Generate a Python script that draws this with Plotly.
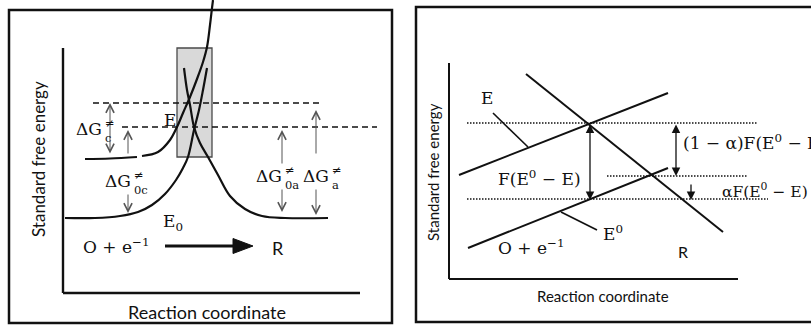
import plotly.graph_objects as go

W, H = 811, 325

# ---------------- Left panel: curved free-energy profiles ----------------
# (reaction coordinate, energy) (screen units, y down)
curve_OE_flat_x = [85, 110, 137]
curve_OE_flat_y = [159, 158.5, 157]
curve_OE_x = [142, 158, 170, 177, 183, 190, 197, 203, 207, 210, 212, 213]
curve_OE_y = [156, 152, 140, 127, 113, 97, 79, 62, 47, 25, 8, 0]
curve_OE0_x = [65, 95, 120, 138, 152, 165, 176, 183, 188, 194, 199, 203, 207]
curve_OE0_y = [218, 218, 216, 212, 205, 194, 180, 168, 157, 130, 110, 90, 68]
curve_R_x = [184, 187, 190, 194, 200, 208, 218, 230, 245, 262, 285, 328]
curve_R_y = [68, 90, 105, 127, 143, 157, 175, 196, 209, 216, 218, 218]

left_levels_y = [103, 127]          # activation levels (dashed)
left_levels_x0 = [93, 122]
left_levels_x1 = [323, 377]

# ---------------- Right panel: linear free-energy profiles ----------------
line_E_x = [459, 668]
line_E_y = [175, 93]
line_E0_x = [468, 668]
line_E0_y = [248, 168]
line_R_x = [526, 723]
line_R_y = [74, 232]
ptr_E_x = [493, 528]
ptr_E_y = [113, 147]
ptr_E0_x = [561, 597]
ptr_E0_y = [212, 230]
right_levels_y = [123, 176, 199]    # dotted levels
right_levels_x0 = [467, 607, 467]
right_levels_x1 = [757, 748, 768]

SERIF = "DejaVu Serif"
SANS = "Lato"
INK = "#111111"
GREY = "#555555"

fig = go.Figure()

def curve(xs, ys, width=2.2, shape="spline"):
    fig.add_trace(go.Scatter(x=xs, y=ys, mode="lines",
                             line=dict(color=INK, width=width, shape=shape),
                             hoverinfo="skip", showlegend=False))

shapes = []
def seg(x0, y0, x1, y1, width=2.4, color=INK, dash=None, layer="above"):
    d = dict(type="line", x0=x0, y0=y0, x1=x1, y1=y1, xref="x", yref="y",
             line=dict(color=color, width=width), layer=layer)
    if dash:
        d["line"]["dash"] = dash
    shapes.append(d)

# Outer frames
shapes.append(dict(type="rect", x0=9, y0=10, x1=392, y1=323, xref="x", yref="y",
                   line=dict(color=INK, width=2.5), layer="below"))
shapes.append(dict(type="rect", x0=416, y0=7, x1=820, y1=322, xref="x", yref="y",
                   line=dict(color=INK, width=2.5), layer="below"))

# Left axes
seg(63, 48, 63, 293, 2.4)
seg(63, 293, 360, 293, 2.4)
# Right axes
seg(449, 63, 449, 279, 2.0)
seg(449, 279, 738, 279, 2.0)

# Grey transition-state box
shapes.append(dict(type="rect", x0=177, y0=48, x1=212, y1=157, xref="x", yref="y",
                   fillcolor="#d9d9d9", line=dict(color="#4a4a4a", width=1.3),
                   layer="below"))

# Left dashed levels
for y, x0, x1 in zip(left_levels_y, left_levels_x0, left_levels_x1):
    seg(x0, y, x1, y, 1.5, INK, dash="6px,4px")

# Right dotted levels
for y, x0, x1 in zip(right_levels_y, right_levels_x0, right_levels_x1):
    seg(x0, y, x1, y, 1.3, INK, dash="1.5px,1.5px")

# Thick reaction arrow (left)
arr_y, arr_x0, arr_x1, arr_tip = 246, 165, 233, 253
seg(arr_x0, arr_y, arr_x1, arr_y, 3.2)
shapes.append(dict(type="path", xref="x", yref="y",
                   path=f"M {arr_x1},{arr_y-7.5} L {arr_tip},{arr_y} L {arr_x1},{arr_y+7.5} Z",
                   fillcolor=INK, line=dict(color=INK, width=1)))

# Curves
curve(curve_OE_flat_x, curve_OE_flat_y)
curve(curve_OE_x, curve_OE_y)
curve(curve_OE0_x, curve_OE0_y)
curve(curve_R_x, curve_R_y)
curve(line_E_x, line_E_y, 2.0, "linear")
curve(line_E0_x, line_E0_y, 2.0, "linear")
curve(line_R_x, line_R_y, 2.0, "linear")
curve(ptr_E_x, ptr_E_y, 1.6, "linear")
curve(ptr_E0_x, ptr_E0_y, 1.6, "linear")

ann = []
def text(x, y, t, size=17, family=SERIF, xanchor="center", yanchor="middle",
         angle=0, align="center"):
    ann.append(dict(x=x, y=y, xref="x", yref="y", text=t, showarrow=False,
                    font=dict(family=family, size=size, color=INK),
                    xanchor=xanchor, yanchor=yanchor, textangle=angle,
                    align=align, borderpad=0))

def arrow(xh, yh, xt, yt, color=GREY, width=1.0, head=5, size=1.6, both=False):
    ann.append(dict(x=xh, y=yh, ax=xt, ay=yt, xref="x", yref="y", axref="x", ayref="y",
                    text="", showarrow=True, arrowhead=head, startarrowhead=head,
                    arrowsize=size, startarrowsize=size, arrowwidth=width,
                    arrowcolor=color, arrowside="end+start" if both else "end",
                    standoff=0, startstandoff=0))

def dg(xr, y, sup, sub, size=17):
    text(xr, y, "ΔG", size, xanchor="right")
    text(xr + 0.5, y + 1, f"{sup}<br>{sub}", 11.5, xanchor="left", align="left")

# ---- Left panel annotations ----
text(38, 159, "Standard free energy", 17, SANS, angle=-90)
text(207, 312, "Reaction coordinate", 18, SANS)
text(170, 120, "E", 17)
text(162, 222, "E<sub>0</sub>", 17, xanchor="left")
text(82, 246, "O + e<sup>−1</sup>", 17, xanchor="left")
text(278, 248, "R", 18, SANS)

arrow(110, 103, 110, 155, both=True)
arrow(128, 130, 128, 155)
arrow(128, 213, 128, 193)
arrow(282, 130, 282, 165)
arrow(282, 212, 282, 188)
arrow(316, 110, 316, 155)
arrow(316, 215, 316, 188)

dg(103, 129, "≠", "c")
dg(132, 181, "≠", "0c")
dg(283, 176, "≠", "0a")
dg(330, 176, "≠", "a")

# ---- Right panel annotations ----
text(433, 172, "Standard free energy", 15, SANS, angle=-90)
text(603, 296, "Reaction coordinate", 15, SANS)
text(487, 98, "E", 17)
text(602, 233, "E<sup>0</sup>", 17, xanchor="left")
text(497, 247, "O + e<sup>−1</sup>", 17, xanchor="left")
text(683, 251, "R", 16, SANS)
text(497, 178, "F(E<sup>0</sup> − E)", 17, xanchor="left")
text(682, 142, "(1 − α)F(E<sup>0</sup> − E)", 17, xanchor="left")
text(721, 190, "αF(E<sup>0</sup> − E)", 15.5, xanchor="left")

arrow(590, 200, 590, 123, INK, 1.3, 2, 1.3, both=True)
arrow(676, 176, 676, 123, INK, 1.3, 2, 1.3, both=True)
arrow(691, 200, 691, 183, INK, 1.3, 2, 1.3)

fig.update_layout(
    width=W, height=H, margin=dict(l=0, r=0, t=0, b=0),
    paper_bgcolor="white", plot_bgcolor="white",
    xaxis=dict(range=[0, W], visible=False, fixedrange=True),
    yaxis=dict(range=[H, 0], visible=False, fixedrange=True),
    shapes=shapes, annotations=ann, showlegend=False,
)

fig.write_html("out.html", config={"displayModeBar": False},
               post_script="document.body.style.margin='0';")
